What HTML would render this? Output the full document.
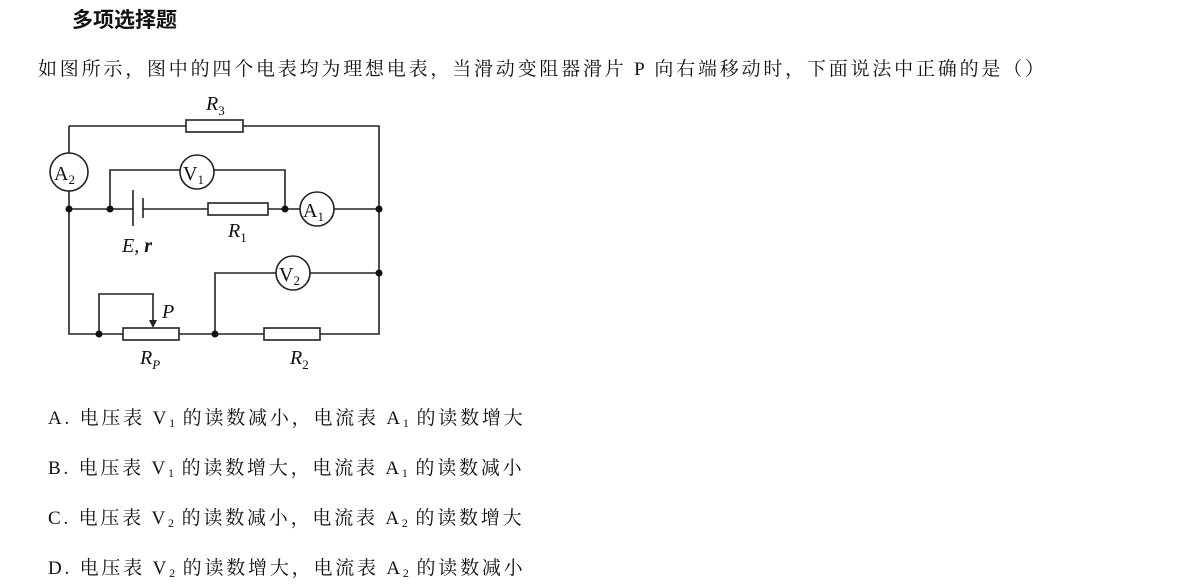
<!DOCTYPE html>
<html><head><meta charset="utf-8"><style>
body{margin:0;width:1196px;height:587px;background:#fff;position:relative;overflow:hidden;font-family:"Liberation Serif","Noto Serif CJK SC",serif;color:#111}
.t{position:absolute;white-space:nowrap}
.q{font-size:19px;letter-spacing:2.8px}
sub{font-size:12px;vertical-align:-3px;line-height:0;letter-spacing:0}
</style></head><body>
<div class="t" style="left:72px;top:4px;font-size:21px;font-weight:bold;font-family:'Liberation Sans','Noto Sans CJK SC',sans-serif">多项选择题</div>
<div class="t q" style="left:38px;top:54px">如图所示，图中的四个电表均为理想电表，当滑动变阻器滑片 P 向右端移动时，下面说法中正确的是（）</div>
<div class="t q" style="left:48px;top:403px">A.&nbsp;电压表 V<sub>1</sub> 的读数减小，电流表 A<sub>1</sub> 的读数增大</div>
<div class="t q" style="left:48px;top:453px">B.&nbsp;电压表 V<sub>1</sub> 的读数增大，电流表 A<sub>1</sub> 的读数减小</div>
<div class="t q" style="left:48px;top:503px">C.&nbsp;电压表 V<sub>2</sub> 的读数减小，电流表 A<sub>2</sub> 的读数增大</div>
<div class="t q" style="left:48px;top:553px">D.&nbsp;电压表 V<sub>2</sub> 的读数增大，电流表 A<sub>2</sub> 的读数减小</div>
<svg width="1196" height="587" style="position:absolute;left:0;top:0" font-family="Liberation Serif,serif" font-style="italic">
<g stroke="#222" stroke-width="1.6" fill="none">
<polyline points="69,126 379,126 379,334 69,334 69,126"/>
<line x1="69" y1="209" x2="133" y2="209"/><line x1="143" y1="209" x2="379" y2="209"/>
<polyline points="110,209 110,170 285,170 285,209"/>
<polyline points="215,334 215,273 379,273"/>
<polyline points="99,334 99,294 153,294 153,322"/>
<line x1="133" y1="190" x2="133" y2="226"/><line x1="143" y1="198" x2="143" y2="218"/>
</g>
<g stroke="#222" stroke-width="1.6" fill="#fff">
<rect x="186" y="120" width="57" height="12"/>
<rect x="208" y="203" width="60" height="12"/>
<rect x="123" y="328" width="56" height="12"/>
<rect x="264" y="328" width="56" height="12"/>
<circle cx="69" cy="172" r="19"/>
<circle cx="197" cy="172" r="17"/>
<circle cx="317" cy="209" r="17"/>
<circle cx="293" cy="273" r="17"/>
</g>
<polygon points="149,320 157,320 153,328" fill="#222"/>
<g fill="#111"><circle cx="69" cy="209" r="3.5"/><circle cx="110" cy="209" r="3.5"/><circle cx="285" cy="209" r="3.5"/><circle cx="379" cy="209" r="3.5"/><circle cx="379" cy="273" r="3.5"/><circle cx="99" cy="334" r="3.5"/><circle cx="215" cy="334" r="3.5"/></g>
<g font-size="20" fill="#111" font-style="normal">
<text x="54" y="180">A<tspan font-size="13" dy="4">2</tspan></text>
<text x="183" y="180">V<tspan font-size="13" dy="4">1</tspan></text>
<text x="303" y="217">A<tspan font-size="13" dy="4">1</tspan></text>
<text x="279" y="281">V<tspan font-size="13" dy="4">2</tspan></text>
</g>
<g font-size="20" fill="#111">
<text x="206" y="110">R<tspan font-size="13" dy="5" font-style="normal">3</tspan></text>
<text x="228" y="237">R<tspan font-size="13" dy="5" font-style="normal">1</tspan></text>
<text x="122" y="252">E<tspan>, </tspan><tspan font-weight="bold">r</tspan></text>
<text x="162" y="318">P</text>
<text x="140" y="364">R<tspan font-size="13" dy="5">P</tspan></text>
<text x="290" y="364">R<tspan font-size="13" dy="5" font-style="normal">2</tspan></text>
</g>
</svg>
</body></html>
